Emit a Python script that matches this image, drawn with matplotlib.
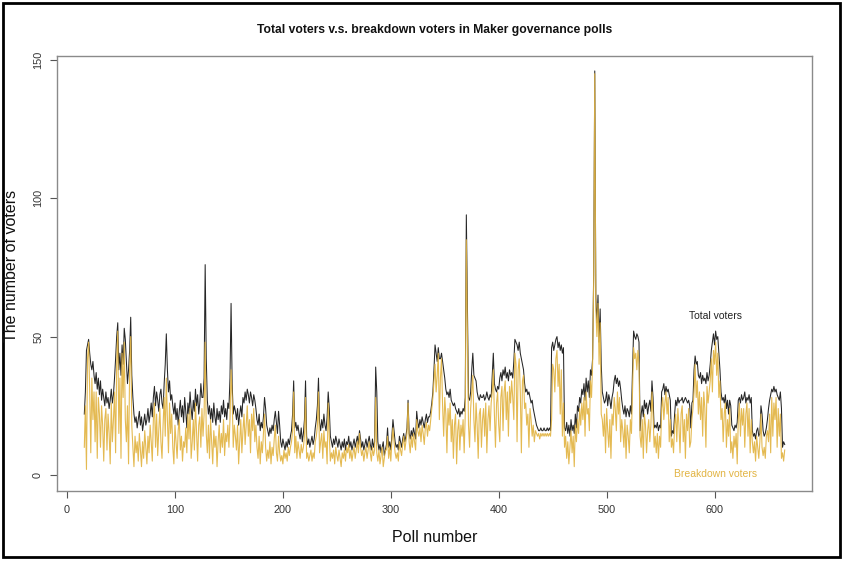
import numpy as np
import matplotlib
matplotlib.use("Agg")
import matplotlib.pyplot as plt
from matplotlib.patches import Rectangle

plt.rcParams['font.family'] = ['Liberation Sans', 'DejaVu Sans']

first_poll = 16

total_voters = [
    22, 30, 45, 47, 49, 44, 40, 38, 41, 36,
    33, 37, 31, 35, 29, 34, 27, 31, 28, 25,
    30, 26, 28, 24, 27, 31, 26, 29, 35, 42,
    50, 55, 38, 44, 36, 47, 40, 53, 49, 41,
    33, 38, 45, 57, 36, 28, 22, 19, 21, 17,
    20, 23, 18, 21, 16, 19, 22, 18, 20, 24,
    19, 22, 26, 21, 28, 32, 25, 30, 27, 23,
    29, 31, 26, 24, 33, 40, 51, 38, 30, 34,
    27, 29, 25, 22, 26, 20, 24, 18, 23, 27,
    21, 25, 19, 28, 23, 17, 26, 22, 30, 24,
    20, 27, 23, 31, 25, 29, 22, 26, 33, 28,
    28, 35, 76, 42, 27, 22, 25, 20, 24, 19,
    26, 21, 18, 24, 20, 23, 19, 25, 22, 27,
    21, 24, 20, 26, 24, 35, 62, 33, 22, 25,
    23, 20, 24, 18, 22, 25, 21, 28, 26, 30,
    27, 31, 29, 26, 30, 28, 25, 29, 27, 24,
    20, 18, 22, 16, 19, 17, 21, 28, 24, 18,
    16, 14, 17, 15, 18, 16, 20, 23, 19, 15,
    23, 18, 12, 10, 13, 11, 9, 12, 10, 13,
    11, 14, 16, 22, 34, 17, 19, 16, 18, 15,
    13, 17, 12, 15, 20, 34, 14, 11, 13, 10,
    12, 14, 11, 13, 17, 20, 25, 35, 19, 16,
    20, 17, 22, 18, 16, 21, 30, 24, 14, 12,
    10, 13, 11, 14, 12, 10, 13, 11, 9, 12,
    10, 13, 9, 12, 11, 14, 10, 12, 9, 11,
    13, 10, 12, 14, 11, 16, 13, 10, 12, 9,
    11, 13, 10, 12, 14, 11, 9, 13, 10, 12,
    39, 30, 12, 9, 11, 8, 10, 12, 7, 9,
    11, 17, 10, 12, 9, 14, 20, 16, 12, 10,
    11, 9, 14, 12, 10, 13, 15, 12, 14, 17,
    27, 15, 13, 16, 14, 17, 15, 13, 23, 19,
    17, 20, 18, 21, 19, 17, 20, 22, 19, 21,
    21, 23, 26, 30, 38, 47, 44, 41, 46, 42,
    42, 44, 41, 38, 35, 31, 29, 30, 28, 31,
    27, 26, 25, 26, 24, 23, 22, 24, 21, 23,
    22, 24, 23, 28, 94, 60, 28, 27, 30, 38,
    44, 36, 35, 34, 30, 28, 27, 29, 28, 28,
    29, 27, 28, 30, 28, 27, 29, 28, 36, 44,
    33, 31, 30, 32, 31, 35, 37, 34, 38, 36,
    39, 35, 37, 34, 38, 36, 37, 35, 41, 49,
    48, 47, 45, 48, 44, 42, 40, 38, 33, 30,
    31, 29, 30, 28, 26, 27, 24, 22, 20, 18,
    17, 16, 16, 17, 16, 16, 17, 16, 16, 17,
    16, 17, 16, 46, 48, 45, 47, 49, 50, 46,
    48, 45, 47, 44, 46, 17, 16, 19, 15, 18,
    14, 20, 16, 18, 15, 22, 17, 25, 23, 28,
    26, 31, 29, 33, 27, 35, 30, 34, 28, 38,
    36, 42, 73, 146, 64, 55, 65, 48, 60, 40,
    30, 28, 26, 27, 30, 25, 29, 27, 24, 28,
    30, 34, 36, 33, 35, 32, 34, 31, 27, 24,
    22, 25, 21, 24, 23, 21, 25, 22, 38, 52,
    50, 49, 51, 50, 48, 16, 22, 25, 21, 27,
    24, 26, 22, 25, 27, 23, 34, 28, 17, 18,
    17, 19, 16, 18, 17, 30, 31, 33, 29, 32,
    30, 31, 29, 27, 14, 16, 15, 22, 27, 25,
    28, 26, 27, 27, 28, 26, 27, 28, 27, 26,
    27, 25, 17, 26, 27, 38, 43, 40, 41, 36,
    35, 37, 33, 36, 34, 35, 33, 37, 34, 36,
    40, 45, 48, 51, 47, 52, 49, 50, 44, 38,
    30, 27, 28, 26, 29, 24, 27, 22, 27, 25,
    18, 17, 16, 18, 17, 19, 27, 28, 26, 29,
    27, 28, 30, 26, 28, 27, 29, 26, 28, 16,
    14, 15, 13, 16, 17, 14, 15, 25, 22, 16,
    14, 15, 17, 20, 24, 27, 29, 31, 30, 32,
    30, 31, 29, 28, 27, 30, 24, 10, 12, 11,
]

breakdown_voters = [
    10, 25, 2, 42, 48, 30, 8, 35, 20, 30,
    12, 30, 6, 28, 22, 10, 25, 18, 5, 20,
    24, 9, 22, 15, 4, 26, 12, 20, 30, 8,
    40, 52, 15, 35, 6, 44, 28, 48, 20, 12,
    25, 4, 38, 50, 18, 10, 3, 14, 8, 12,
    5, 15, 9, 3, 12, 6, 16, 10, 4, 14,
    8, 18, 12, 5, 20, 26, 10, 22, 7, 16,
    24, 12, 6, 18, 28, 14, 35, 20, 8, 26,
    15, 22, 10, 4, 18, 12, 6, 16, 20, 9,
    14, 5, 12, 10, 17, 8, 22, 13, 24, 6,
    12, 20, 9, 26, 15, 5, 18, 21, 10, 24,
    14, 22, 48, 15, 8, 18, 6, 20, 12, 4,
    16, 10, 14, 3, 12, 18, 8, 15, 10, 20,
    7, 15, 12, 18, 10, 20, 38, 28, 10, 18,
    14, 9, 18, 4, 12, 20, 8, 16, 22, 11,
    18, 25, 14, 20, 8, 22, 16, 24, 12, 18,
    10, 6, 14, 4, 12, 8, 15, 22, 10, 5,
    9, 6, 12, 4, 10, 7, 13, 18, 8, 5,
    14, 8, 5, 7, 4, 9, 6, 8, 5, 10,
    7, 10, 12, 16, 30, 8, 14, 6, 12, 9,
    6, 11, 8, 10, 14, 28, 6, 8, 5, 7,
    9, 5, 8, 6, 12, 14, 18, 30, 8, 12,
    15, 6, 16, 10, 12, 4, 26, 14, 5, 8,
    6, 9, 4, 10, 7, 5, 9, 6, 3, 8,
    6, 9, 5, 10, 8, 11, 6, 9, 5, 8,
    10, 6, 9, 12, 8, 15, 10, 7, 9, 5,
    8, 10, 6, 9, 12, 8, 5, 10, 7, 9,
    28, 8, 5, 9, 4, 7, 10, 3, 6, 9,
    9, 14, 6, 10, 5, 12, 17, 12, 8, 6,
    8, 5, 12, 9, 7, 11, 14, 9, 12, 15,
    26, 12, 8, 14, 10, 15, 12, 9, 20, 16,
    14, 17, 12, 18, 15, 11, 17, 19, 14, 18,
    16, 20, 24, 28, 34, 40, 30, 36, 44, 20,
    35, 42, 25, 14, 28, 22, 8, 24, 18, 26,
    12, 20, 6, 18, 22, 4, 16, 20, 9, 18,
    14, 20, 8, 22, 85, 50, 18, 10, 24, 30,
    36, 20, 12, 26, 18, 6, 22, 24, 10, 20,
    24, 14, 26, 8, 20, 25, 16, 26, 30, 38,
    22, 10, 26, 30, 18, 12, 28, 32, 16, 30,
    34, 20, 30, 14, 32, 26, 34, 28, 20, 44,
    40, 12, 38, 42, 30, 8, 34, 36, 24, 26,
    18, 22, 10, 24, 20, 14, 18, 12, 16, 15,
    14, 15, 13, 15, 14, 15, 14, 15, 14, 15,
    14, 15, 14, 20, 40, 38, 30, 42, 45, 32,
    40, 22, 38, 14, 26, 10, 14, 6, 12, 4,
    10, 16, 8, 14, 3, 18, 12, 20, 15, 24,
    18, 26, 20, 28, 14, 30, 22, 24, 16, 34,
    28, 40, 70, 145, 60, 50, 62, 40, 55, 22,
    20, 14, 22, 8, 24, 16, 10, 20, 6, 22,
    18, 28, 24, 16, 30, 22, 28, 12, 20, 16,
    10, 20, 6, 18, 14, 8, 20, 15, 30, 46,
    42, 44, 38, 45, 40, 14, 10, 20, 6, 22,
    18, 8, 16, 20, 12, 18, 30, 22, 10, 14,
    8, 15, 6, 14, 10, 24, 28, 20, 26, 30,
    22, 28, 12, 20, 10, 13, 8, 18, 22, 12,
    24, 18, 8, 22, 25, 12, 20, 6, 22, 16,
    24, 10, 12, 20, 24, 30, 40, 28, 34, 22,
    30, 20, 28, 14, 30, 24, 10, 32, 26, 30,
    34, 42, 30, 45, 40, 48, 36, 44, 28, 34,
    20, 24, 12, 22, 26, 10, 20, 14, 24, 8,
    12, 6, 14, 10, 15, 4, 20, 26, 14, 24,
    18, 24, 10, 22, 26, 14, 24, 8, 20, 12,
    8, 12, 5, 14, 10, 6, 12, 22, 10, 7,
    10, 6, 14, 16, 12, 22, 8, 28, 14, 26,
    20, 28, 10, 24, 14, 22, 6, 8, 5, 9,
]

x_ticks = [0, 100, 200, 300, 400, 500, 600]
y_ticks = [0, 50, 100, 150]

title = "Total voters v.s. breakdown voters in Maker governance polls"
xlabel = "Poll number"
ylabel = "The number of voters"
label_total = "Total voters"
label_breakdown = "Breakdown voters"

polls = np.arange(first_poll, first_poll + len(total_voters))
polls_b = np.arange(first_poll, first_poll + len(breakdown_voters))

W, H = 843, 562
fig = plt.figure(figsize=(W / 100, H / 100), dpi=100)
ax = fig.add_axes([57 / W, 1 - 491 / H, (812 - 57) / W, (491 - 56) / H])

gold = '#E2B443'
ax.plot(polls, total_voters, color='#262626', lw=0.75)
ax.plot(polls_b, breakdown_voters, color=gold, lw=0.8, alpha=0.92)

ax.set_xlim(-9.3, 690.3)
ax.set_ylim(-5.8, 151.4)
ax.set_xticks(x_ticks)
ax.set_yticks(y_ticks)
ax.set_yticklabels([str(v) for v in y_ticks], rotation=90, va='center')
ax.tick_params(axis='both', direction='out', length=5, width=0.8,
               colors='#555555', labelcolor='#333333', labelsize=7.8, pad=5)
for s in ax.spines.values():
    s.set_color('#8a8a8a')
    s.set_linewidth(1.0)

ax.text(601, 57.5, label_total, color='#222222', fontsize=7.5,
        ha='center', va='center')
ax.text(601, 0.4, label_breakdown, color=gold, fontsize=7.5,
        ha='center', va='center')

fig.text(434.5 / W, 1 - 30 / H, title, fontsize=8.7, fontweight='bold',
         ha='center', va='center', color='#111111')
fig.text(434.5 / W, 1 - 537 / H, xlabel, fontsize=11.5, ha='center',
         va='center', color='#111111')
fig.text(12 / W, 1 - 266 / H, ylabel, fontsize=11.5, ha='center',
         va='center', rotation=90, color='#111111')

fig.patches.append(Rectangle((3 / W, 1 - 557 / H), (840 - 3) / W,
                             (557 - 3) / H, transform=fig.transFigure,
                             fill=False, edgecolor='black', lw=2.0))

fig.savefig('out.png', dpi=100)
